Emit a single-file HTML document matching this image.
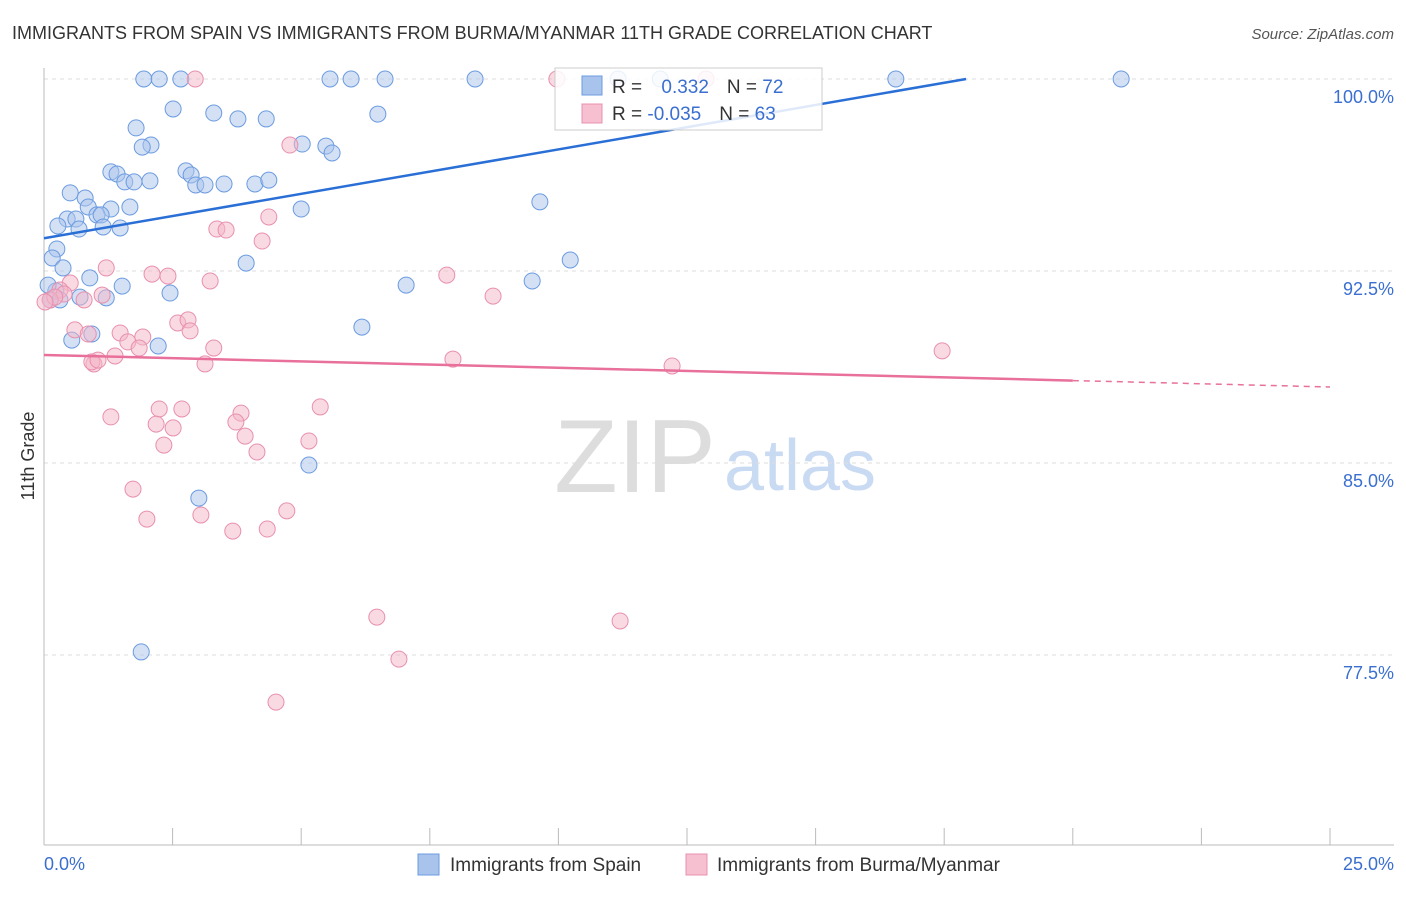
<!DOCTYPE html>
<html><head><meta charset="utf-8"><style>
body{margin:0;background:#fff;font-family:"Liberation Sans",sans-serif;}
svg text{font-family:"Liberation Sans",sans-serif;}
</style></head><body>
<svg id="c" width="1406" height="892">
<text x="12" y="39" font-size="18" fill="#333">IMMIGRANTS FROM SPAIN VS IMMIGRANTS FROM BURMA/MYANMAR 11TH GRADE CORRELATION CHART</text>
<text x="1394" y="39" font-size="15" fill="#555" font-style="italic" text-anchor="end">Source: ZipAtlas.com</text>
<text x="34" y="456" font-size="18" fill="#333" transform="rotate(-90 34 456)" text-anchor="middle">11th Grade</text>
<text x="635" y="492" font-size="104" fill="#ddd" font-family="Liberation Serif" text-anchor="middle">ZIP</text>
<text x="800" y="490" font-size="72" fill="#c9daf3" text-anchor="middle">atlas</text>
<g id="grid"></g><g id="pts"></g><g id="lines"></g>
<g>
<rect x="555" y="68" width="267" height="62" fill="#fff" fill-opacity="0.85" stroke="#ccc"/>
<rect x="582" y="76" width="20" height="19" fill="#a9c4ec" stroke="#6b9be0"/>
<rect x="582" y="104" width="20" height="19" fill="#f6c0d0" stroke="#e890ae"/>
<text x="612" y="93" font-size="19" fill="#333">R = <tspan fill="#3a6fd0" dx="14">0.332</tspan><tspan dx="18" fill="#333">N = </tspan><tspan fill="#3a6fd0">72</tspan></text>
<text x="612" y="120" font-size="19" fill="#333">R = <tspan fill="#3a6fd0">-0.035</tspan><tspan dx="18" fill="#333">N = </tspan><tspan fill="#3a6fd0">63</tspan></text>
</g>
<g>
<rect x="418" y="854" width="21" height="21" fill="#a9c4ec" stroke="#6b9be0"/>
<text x="450" y="871" font-size="19" fill="#333">Immigrants from Spain</text>
<rect x="686" y="854" width="21" height="21" fill="#f6c0d0" stroke="#e890ae"/>
<text x="717" y="871" font-size="19" fill="#333">Immigrants from Burma/Myanmar</text>
</g>
<text x="44" y="870" font-size="18" fill="#3a6fd0">0.0%</text>
<text x="1394" y="870" font-size="18" fill="#3a6fd0" text-anchor="end">25.0%</text>
</svg>
<script>
const yTicks=[100,92.5,85,77.5];
const yTickLabels=["100.0%","92.5%","85.0%","77.5%"];
const xTicks=[0,2.5,5,7.5,10,12.5,15,17.5,20,22.5,25];
const spainPx=[[144,79],[159,79],[181,79],[330,79],[351,79],[385,79],[475,79],[618,79],[660,79],[896,79],[1121,79],[173,109],[214,113],[238,119],[266,119],[378,114],[136,128],[151,145],[142,147],[326,146],[332,153],[302,144],[111,172],[117,174],[186,171],[191,175],[125,182],[134,182],[150,181],[196,185],[205,185],[224,184],[255,184],[269,180],[70,193],[85,198],[88,207],[111,209],[130,207],[301,209],[540,202],[67,219],[76,219],[97,215],[101,215],[58,226],[79,229],[103,227],[120,228],[57,249],[52,258],[63,268],[246,263],[570,260],[90,278],[532,281],[406,285],[122,286],[170,293],[106,298],[80,297],[56,291],[48,285],[362,327],[92,334],[72,340],[158,346],[309,465],[199,498],[141,652],[50,300],[60,300]];
const burmaPx=[[195,79],[557,79],[706,79],[290,145],[269,217],[217,229],[226,230],[262,241],[106,268],[152,274],[168,276],[210,281],[447,275],[493,296],[70,283],[60,290],[64,294],[84,300],[102,295],[50,300],[75,330],[88,334],[120,333],[143,337],[128,342],[139,348],[115,356],[94,364],[178,323],[188,320],[190,331],[214,348],[205,364],[453,359],[672,366],[942,351],[111,417],[159,409],[182,409],[241,413],[236,422],[156,424],[173,428],[164,445],[245,436],[257,452],[320,407],[309,441],[133,489],[147,519],[201,515],[233,531],[267,529],[287,511],[377,617],[620,621],[399,659],[276,702],[55,297],[45,302],[92,362],[98,360]];
const spainX=spainPx.map(p=>+((p[0]-44)/51.44).toFixed(2)), spainY=spainPx.map(p=>+(100-(p[1]-79)/25.6).toFixed(2));
const burmaX=burmaPx.map(p=>+((p[0]-44)/51.44).toFixed(2)), burmaY=burmaPx.map(p=>+(100-(p[1]-79)/25.6).toFixed(2));
const spainTrend=[93.78,0.347];
const burmaTrend=[89.22,-0.05];
const X=v=>44+v*51.44, Y=v=>79+(100-v)*25.6;
const NS="http://www.w3.org/2000/svg";
function mk(t,a,parent){const e=document.createElementNS(NS,t);for(const k in a)e.setAttribute(k,a[k]);document.getElementById(parent).appendChild(e);return e;}
yTicks.forEach((t,i)=>{
 const l=mk('line',{x1:44,x2:1394,y1:Y(t),y2:Y(t),stroke:'#ddd','stroke-dasharray':'4,4'},'grid');
 
 
 const tx=mk('text',{x:1394,y:Y(t)+24,'font-size':18,fill:'#3a6fd0','text-anchor':'end'},'grid');
 tx.textContent=yTickLabels[i];
 
 
});
mk('line',{x1:44,x2:44,y1:68,y2:845,stroke:'#bbb'},'grid');
mk('line',{x1:44,x2:1394,y1:845,y2:845,stroke:'#bbb'},'grid');
xTicks.forEach(t=>{const l=mk('line',{x1:X(t),x2:X(t),y1:828,y2:845,stroke:'#bbb'},'grid');
 
 });
spainX.forEach((x,i)=>{const c=mk('circle',{cx:X(x),cy:Y(spainY[i]),r:8,fill:'rgba(169,196,236,0.5)',stroke:'#6b9be0','stroke-width':1},'pts');
 
 });
burmaX.forEach((x,i)=>{const c=mk('circle',{cx:X(x),cy:Y(burmaY[i]),r:8,fill:'rgba(244,181,200,0.5)',stroke:'#e890ae','stroke-width':1},'pts');
 
 });
const xe=(100-spainTrend[0])/spainTrend[1];
const l1=mk('line',{x1:X(0),y1:Y(spainTrend[0]),x2:X(xe),y2:Y(spainTrend[0]+spainTrend[1]*xe),stroke:'#2a6fd6','stroke-width':2.5},'lines');


const l2=mk('line',{x1:X(0),y1:Y(burmaTrend[0]),x2:X(20),y2:Y(burmaTrend[0]+burmaTrend[1]*20),stroke:'#e8709a','stroke-width':2.5},'lines');


const l3=mk('line',{x1:X(20),y1:Y(burmaTrend[0]+burmaTrend[1]*20),x2:X(25),y2:Y(burmaTrend[0]+burmaTrend[1]*25),stroke:'#e8709a','stroke-width':1.5,'stroke-dasharray':'6,5'},'lines');


</script>
</body></html>
